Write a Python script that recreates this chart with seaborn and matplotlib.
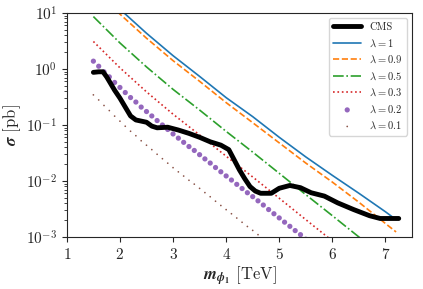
import matplotlib
matplotlib.use("Agg")
import matplotlib.pyplot as plt
import seaborn as sns

# CMS observed limit (m in TeV, sigma in pb)
cms_mass = [1.50, 1.60, 1.68, 1.75, 1.80, 1.85, 1.90, 2.00, 2.10, 2.20, 2.30, 2.50,
            2.60, 2.70, 2.90, 3.10, 3.30, 3.50, 3.70, 3.90, 4.05, 4.15, 4.25, 4.35,
            4.45, 4.55, 4.65, 4.85, 5.00, 5.20, 5.40, 5.60, 5.85, 6.10, 6.40, 6.70,
            6.90, 7.25]
cms_sigma = [0.871, 0.891, 0.891, 0.724, 0.603, 0.501, 0.417, 0.302, 0.209, 0.145,
             0.123, 0.112, 0.0955, 0.0891, 0.0912, 0.0813, 0.0708, 0.0603, 0.0501,
             0.0437, 0.0363, 0.024, 0.0158, 0.011, 0.00794, 0.0066, 0.00603, 0.00603,
             0.00741, 0.00832, 0.00759, 0.00617, 0.00537, 0.00407, 0.00309, 0.0024,
             0.00214, 0.00214]

# theory curves on a coarse grid
mass_coarse = [1.5, 2.0, 2.5, 3.0, 3.5, 4.0, 4.5, 5.0, 5.5, 6.0, 6.5, 7.0, 7.2]
sigma_lam1 = [34.7, 11.7, 4.35, 1.73, 0.738, 0.308, 0.141, 0.0603, 0.0269, 0.0126,
              0.00603, 0.00282, 0.00204]
sigma_lam09 = [28.2, 9.55, 3.55, 1.41, 0.603, 0.251, 0.110, 0.0479, 0.0209, 0.00955,
               0.00417, 0.00174, 0.00123]
sigma_lam05 = [8.63, 2.92, 1.09, 0.433, 0.185, 0.0769, 0.0328, 0.0137, 0.0057, 0.0024,
               0.001, 0.000417, 0.000295]
sigma_lam03 = [3.10, 1.05, 0.391, 0.156, 0.0664, 0.0277, 0.0118, 0.00492, 0.00204,
               0.000851, 0.000355, 0.000148, 0.000105]

# point-style curves on a 0.1 TeV grid
mass_fine = [1.5, 1.6, 1.7, 1.8, 1.9, 2.0, 2.1, 2.2, 2.3, 2.4, 2.5, 2.6, 2.7, 2.8, 2.9,
             3.0, 3.1, 3.2, 3.3, 3.4, 3.5, 3.6, 3.7, 3.8, 3.9, 4.0, 4.1, 4.2, 4.3, 4.4,
             4.5, 4.6, 4.7, 4.8, 4.9, 5.0, 5.1, 5.2, 5.3, 5.4, 5.5]
sigma_lam02 = [1.38, 1.12, 0.891, 0.724, 0.575, 0.468, 0.380, 0.309, 0.257, 0.209,
               0.174, 0.145, 0.120, 0.100, 0.0832, 0.0692, 0.0582, 0.0490, 0.0412,
               0.0351, 0.0295, 0.0248, 0.0209, 0.0174, 0.0146, 0.0123, 0.0104,
               0.00871, 0.00733, 0.00617, 0.00525, 0.00442, 0.00372, 0.00309,
               0.00260, 0.00219, 0.00184, 0.00155, 0.00130, 0.00110, 0.000912]
sigma_lam01 = [0.345, 0.28, 0.223, 0.181, 0.144, 0.117, 0.095, 0.0773, 0.0643, 0.0523,
               0.0435, 0.0363, 0.030, 0.025, 0.0208, 0.0173, 0.01455, 0.01225, 0.0103,
               0.00878, 0.00738, 0.0062, 0.00523, 0.00435, 0.00365, 0.00308, 0.0026,
               0.00218, 0.00183, 0.00154, 0.00131, 0.0011, 0.00093]

sns.set_style("ticks")
plt.rcParams["font.family"] = ["cmr10", "DejaVu Serif"]
plt.rcParams["mathtext.fontset"] = "cm"
plt.rcParams["axes.formatter.use_mathtext"] = True
plt.rcParams["axes.unicode_minus"] = False

fig = plt.figure(figsize=(4.23, 2.89), dpi=100)
ax = fig.add_axes([0.158, 0.18, 0.816, 0.775])

sns.lineplot(x=cms_mass, y=cms_sigma, ax=ax, color="black", lw=3.5, label="CMS", zorder=5)
sns.lineplot(x=mass_coarse, y=sigma_lam1, ax=ax, color="C0", lw=1.2, label=r"$\lambda = 1$")
sns.lineplot(x=mass_coarse, y=sigma_lam09, ax=ax, color="C1", lw=1.2, ls="--", label=r"$\lambda = 0.9$")
sns.lineplot(x=mass_coarse, y=sigma_lam05, ax=ax, color="C2", lw=1.2, ls="-.", label=r"$\lambda = 0.5$")
sns.lineplot(x=mass_coarse, y=sigma_lam03, ax=ax, color="C3", lw=1.2, ls=":", label=r"$\lambda = 0.3$")
sns.scatterplot(x=mass_fine, y=sigma_lam02, ax=ax, color="C4", s=14, edgecolor="none", label=r"$\lambda = 0.2$")
sns.scatterplot(x=mass_fine[:len(sigma_lam01)], y=sigma_lam01, ax=ax, color="C5", s=1.5,
                edgecolor="none", label=r"$\lambda = 0.1$")

ax.set_yscale("log")
ax.set_xlim(1, 7.5)
ax.set_ylim(1e-3, 10)
ax.set_xticks([1, 2, 3, 4, 5, 6, 7])
ax.tick_params(labelsize=11)
ax.set_xlabel(r"$\mathbfit{m}_{\mathbfit{\phi}_{\mathbf{1}}}$ [TeV]", fontsize=12, labelpad=2,
              math_fontfamily="stix")
ax.set_ylabel(r"$\mathbfit{\sigma}$ [pb]", fontsize=12, labelpad=2, math_fontfamily="stix")
for s in ax.spines.values():
    s.set_visible(True)

ax.legend(loc="upper right", fontsize=7.6, handlelength=2.6, frameon=True, framealpha=0.8)

fig.savefig("out.png", dpi=100)
